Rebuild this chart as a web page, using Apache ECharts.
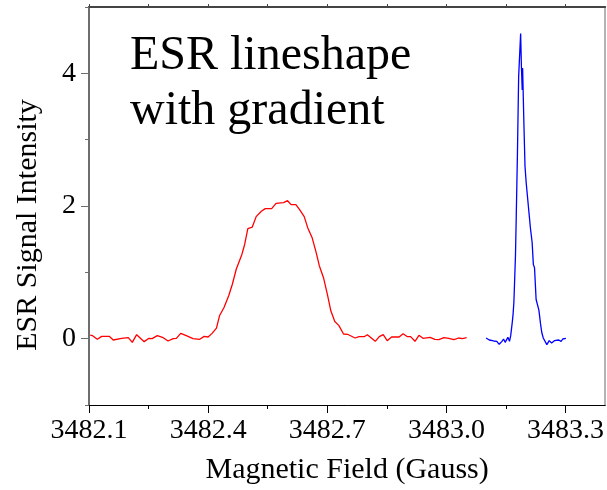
<!DOCTYPE html>
<html>
<head>
<meta charset="utf-8">
<title>ESR lineshape with gradient</title>
<script src="https://cdn.jsdelivr.net/npm/echarts@6/dist/echarts.min.js"></script>
<style>
  html, body { margin: 0; padding: 0; background: #fff; }
  #chart { width: 607px; height: 490px; }
</style>
</head>
<body>
<div id="chart"></div>
<script>
// Broad line (red): field in Gauss and signal intensity
const redField = [
  3482.103, 3482.109, 3482.121, 3482.132, 3482.151, 3482.161, 3482.182, 3482.199,
  3482.209, 3482.220, 3482.239, 3482.251, 3482.259, 3482.272, 3482.287, 3482.299,
  3482.312, 3482.320, 3482.331, 3482.345, 3482.362, 3482.379, 3482.390, 3482.400,
  3482.410, 3482.421, 3482.429, 3482.440, 3482.452, 3482.461, 3482.471, 3482.485,
  3482.492, 3482.500, 3482.511, 3482.521, 3482.534, 3482.544, 3482.560, 3482.571,
  3482.590, 3482.600, 3482.609, 3482.621, 3482.630, 3482.642, 3482.651, 3482.662,
  3482.672, 3482.680, 3482.691, 3482.701, 3482.709, 3482.719, 3482.729, 3482.741,
  3482.751, 3482.770, 3482.780, 3482.793, 3482.801, 3482.821, 3482.831, 3482.841,
  3482.851, 3482.862, 3482.881, 3482.891, 3482.902, 3482.910, 3482.921, 3482.931,
  3482.941, 3482.959, 3482.971, 3482.981, 3482.994, 3483.006, 3483.019, 3483.031,
  3483.040, 3483.051
];
const redSignal = [
  0.055, 0.045, -0.01, 0.035, 0.035, -0.02, 0.005, 0.015,
  -0.055, 0.06, -0.045, 0.005, 0.0, 0.045, 0.015, -0.035,
  0.0, 0.005, 0.08, 0.045, 0.0, -0.01, 0.035, 0.025,
  0.08, 0.16, 0.35, 0.47, 0.65, 0.82, 1.05, 1.27,
  1.42, 1.66, 1.68, 1.84, 1.92, 1.96, 1.96, 2.04,
  2.05, 2.08, 2.02, 2.02, 1.95, 1.84, 1.67, 1.52,
  1.30, 1.10, 0.91, 0.65, 0.42, 0.26, 0.20, 0.07,
  0.066, 0.01, 0.03, 0.03, 0.06, -0.04, 0.03, 0.06,
  -0.03, 0.025, 0.025, 0.075, 0.03, 0.03, -0.04, 0.05,
  0.005, 0.02, -0.01, -0.015, 0.015, 0.005, -0.015, 0.01,
  0.0, 0.015
];

// Narrow line (blue)
const blueField = [
  3483.100, 3483.105, 3483.108, 3483.119, 3483.127, 3483.133, 3483.140, 3483.144,
  3483.148, 3483.155, 3483.159, 3483.162, 3483.166, 3483.168, 3483.170, 3483.171,
  3483.174, 3483.176, 3483.179, 3483.182, 3483.187, 3483.189, 3483.191, 3483.192,
  3483.195, 3483.198, 3483.201, 3483.205, 3483.208, 3483.212, 3483.216, 3483.219,
  3483.222, 3483.226, 3483.231, 3483.233, 3483.237, 3483.240, 3483.244, 3483.249,
  3483.253, 3483.259, 3483.265, 3483.272, 3483.277, 3483.283, 3483.289, 3483.293,
  3483.297, 3483.301
];
const blueSignal = [
  0.01, -0.015, -0.02, -0.035, -0.04, -0.085, -0.04, -0.005,
  -0.055, 0.02, -0.04, 0.045, 0.25, 0.37, 0.55, 0.72,
  1.25, 1.85, 2.80, 3.95, 4.60, 4.10, 3.75, 4.08,
  3.30, 2.60, 2.35, 2.32, 1.90, 1.65, 1.45, 1.12,
  1.07, 0.59, 0.57, 0.43, 0.23, 0.10, 0.01, -0.02,
  -0.09, -0.03, -0.065, -0.03, -0.055, -0.02, -0.04, -0.005,
  -0.015, 0.005
];

// Tick positions and labels
const xTickLabels = [3482.1, 3482.4, 3482.7, 3483.0, 3483.3];
const xMinorTicks = [3482.25, 3482.55, 3482.85, 3483.15];
const xTopTicks = [3482.1, 3482.25, 3482.4, 3482.55, 3482.7, 3482.85, 3483.0, 3483.15, 3483.3];
const yTickLabels = [0, 2, 4];
const yMinorTicks = [-1, 1, 3, 5];

const serif = '"Liberation Serif", "DejaVu Serif", serif';

const zip = (xs, ys) => xs.map((x, i) => [x, ys[i]]);

const chart = echarts.init(document.getElementById('chart'), null, { renderer: 'canvas' });

chart.setOption({
  animation: false,
  backgroundColor: '#ffffff',
  title: {
    text: 'ESR lineshape\nwith gradient',
    left: 125,
    top: 24,
    textStyle: {
      fontFamily: serif,
      fontSize: 48,
      fontWeight: 'normal',
      lineHeight: 55,
      color: '#000'
    }
  },
  grid: { left: 89, right: 1, top: 7, bottom: 84, containLabel: false },
  xAxis: [
    {
      type: 'value', position: 'bottom', min: 3482.1, max: 3483.4,
      name: 'Magnetic Field (Gauss)', nameLocation: 'middle', nameGap: 50,
      nameTextStyle: { fontFamily: serif, fontSize: 30, color: '#000' },
      axisLine: { show: true, onZero: false, lineStyle: { color: '#000', width: 1 } },
      axisTick: { show: true, customValues: xTickLabels, length: 8, lineStyle: { color: '#000', width: 1 } },
      axisLabel: {
        customValues: xTickLabels, margin: 12,
        fontFamily: serif, fontSize: 28, color: '#000',
        formatter: v => v.toFixed(1)
      },
      splitLine: { show: false }
    },
    {
      type: 'value', position: 'bottom', min: 3482.1, max: 3483.4,
      axisLine: { show: false, onZero: false },
      axisTick: { show: true, customValues: xMinorTicks, length: 4, lineStyle: { color: '#000', width: 1 } },
      axisLabel: { show: false },
      splitLine: { show: false }
    },
    {
      type: 'value', position: 'top', min: 3482.1, max: 3483.4,
      axisLine: { show: true, onZero: false, lineStyle: { color: '#444', width: 2 } },
      axisTick: { show: true, customValues: xTopTicks, length: 3, lineStyle: { color: '#444', width: 1 } },
      axisLabel: { show: false },
      splitLine: { show: false }
    }
  ],
  yAxis: [
    {
      type: 'value', position: 'left', min: -1, max: 5,
      name: 'ESR Signal Intensity', nameLocation: 'middle', nameGap: 46,
      nameTextStyle: { fontFamily: serif, fontSize: 30, color: '#000', padding: [0, 38, 0, 0] },
      axisLine: { show: true, onZero: false, lineStyle: { color: '#6e6e6e', width: 2 } },
      axisTick: { show: true, customValues: yTickLabels, length: 8, lineStyle: { color: '#6e6e6e', width: 1 } },
      axisLabel: { customValues: yTickLabels, margin: 13, fontFamily: serif, fontSize: 28, color: '#000' },
      splitLine: { show: false }
    },
    {
      type: 'value', position: 'left', min: -1, max: 5,
      axisLine: { show: false, onZero: false },
      axisTick: { show: true, customValues: yMinorTicks, length: 4, lineStyle: { color: '#6e6e6e', width: 1 } },
      axisLabel: { show: false },
      splitLine: { show: false }
    },
    {
      type: 'value', position: 'right', min: -1, max: 5,
      axisLine: { show: true, onZero: false, lineStyle: { color: '#b4b4b4', width: 2 } },
      axisTick: { show: false },
      axisLabel: { show: false },
      splitLine: { show: false }
    }
  ],
  series: [
    {
      name: 'broad', type: 'line', xAxisIndex: 0, yAxisIndex: 0,
      data: zip(redField, redSignal),
      showSymbol: false, smooth: false,
      lineStyle: { color: '#ff0000', width: 1.3 }
    },
    {
      name: 'narrow', type: 'line', xAxisIndex: 0, yAxisIndex: 0,
      data: zip(blueField, blueSignal),
      showSymbol: false, smooth: false,
      lineStyle: { color: '#0000ff', width: 1.3 }
    }
  ]
});
</script>
</body>
</html>
